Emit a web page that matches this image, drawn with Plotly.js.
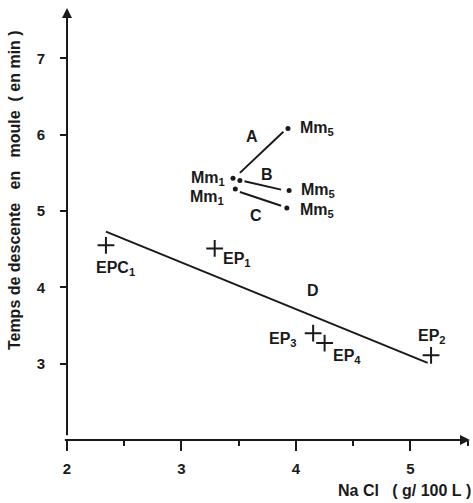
<!DOCTYPE html>
<html>
<head>
<meta charset="utf-8">
<script src="https://cdn.plot.ly/plotly-3.0.1.min.js"></script>
<style>html,body{margin:0;padding:0;background:#fff;}#chart{width:473px;height:503px;}</style>
</head>
<body>
<div id="chart"></div>
<script>
// Points EP (crosses)
const epNames = ['EPC<sub>1</sub>', 'EP<sub>1</sub>', 'EP<sub>3</sub>', 'EP<sub>4</sub>', 'EP<sub>2</sub>'];
const epNaCl = [2.34, 3.29, 4.15, 4.25, 5.18];
const epTime = [4.55, 4.51, 3.40, 3.27, 3.11];

// Regression line D
const dNaCl = [2.34, 5.15];
const dTime = [4.73, 3.01];

// Mm dots: Mm1 (three) and Mm5 (A, B, C)
const mmNames = ['Mm<sub>1</sub>', '', 'Mm<sub>1</sub>', 'Mm<sub>5</sub>', 'Mm<sub>5</sub>', 'Mm<sub>5</sub>'];
const mmNaCl = [3.45, 3.51, 3.47, 3.93, 3.94, 3.92];
const mmTime = [5.43, 5.40, 5.29, 6.08, 5.27, 5.04];

// Segments A, B, C
const aNaCl = [3.51, 3.89], aTime = [5.50, 6.04];
const bNaCl = [3.55, 3.87], bTime = [5.39, 5.28];
const cNaCl = [3.51, 3.87], cTime = [5.25, 5.07];

const xTicks = [2, 3, 4, 5];
const yTicks = [3, 4, 5, 6, 7];

const FONT = 'Liberation Sans, Arial, Helvetica, sans-serif';
const INK = '#1a1a1a';
const NB = '\u00a0';

const lineStyle = {color: INK, width: 2};
const traces = [
  {x: dNaCl, y: dTime, mode: 'lines', line: lineStyle, hoverinfo: 'skip'},
  {x: aNaCl, y: aTime, mode: 'lines', line: lineStyle, hoverinfo: 'skip'},
  {x: bNaCl, y: bTime, mode: 'lines', line: lineStyle, hoverinfo: 'skip'},
  {x: cNaCl, y: cTime, mode: 'lines', line: lineStyle, hoverinfo: 'skip'},
  {x: epNaCl, y: epTime, mode: 'markers',
   marker: {symbol: 'cross-thin-open', size: 12, color: INK, line: {color: INK, width: 2}}},
  {x: mmNaCl, y: mmTime, mode: 'markers',
   marker: {symbol: 'circle', size: 5, color: INK}}
];

const lblFont = {family: FONT, size: 16, color: INK, weight: 'bold'};
function lbl(x, y, text, xanchor, xshift, yshift) {
  return {x: x, y: y, xref: 'x', yref: 'y', text: text, showarrow: false,
          xanchor: xanchor, yanchor: 'middle', xshift: xshift, yshift: yshift, font: lblFont};
}

const annotations = [
  lbl(epNaCl[0], epTime[0], epNames[0], 'center', 10, -23),
  lbl(epNaCl[1], epTime[1], epNames[1], 'left', 6, -11),
  lbl(epNaCl[2], epTime[2], epNames[2], 'right', -14, -6),
  lbl(epNaCl[3], epTime[3], epNames[3], 'left', 6, -13),
  lbl(epNaCl[4], epTime[4], epNames[4], 'center', 1, 19),
  lbl(mmNaCl[0], mmTime[0], mmNames[0], 'right', -6, 0),
  lbl(mmNaCl[2], mmTime[2], mmNames[2], 'right', -9, -9),
  lbl(mmNaCl[3], mmTime[3], mmNames[3], 'left', 10, 0),
  lbl(mmNaCl[4], mmTime[4], mmNames[4], 'left', 10, 0),
  lbl(mmNaCl[5], mmTime[5], mmNames[5], 'left', 11, -3),
  lbl(3.62, 5.97, 'A', 'center', 0, 0),
  lbl(3.75, 5.48, 'B', 'center', 0, 0),
  lbl(3.65, 4.94, 'C', 'center', 0, 0),
  lbl(4.15, 3.96, 'D', 'center', 0, 0),
  // axis arrows
  {x: 5.52, y: 2, ax: 1.955, ay: 2, xref: 'x', yref: 'y', axref: 'x', ayref: 'y',
   showarrow: true, arrowhead: 2, arrowsize: 1, arrowwidth: 2, arrowcolor: INK, text: ' '},
  {x: 2, y: 7.66, ax: 2, ay: 1.93, xref: 'x', yref: 'y', axref: 'x', ayref: 'y',
   showarrow: true, arrowhead: 2, arrowsize: 1, arrowwidth: 2, arrowcolor: INK, text: ' '},
  // axis titles
  {xref: 'paper', yref: 'paper', x: -0.132, y: 0.578, textangle: -90, showarrow: false,
   text: 'Temps' + NB + 'de' + NB + 'descente' + NB + NB + NB + 'en' + NB + NB + NB + 'moule' + NB + NB + '(' + NB + 'en' + NB + 'min' + NB + ')',
   font: {family: FONT, size: 16, color: INK, weight: 'bold'}, xanchor: 'center', yanchor: 'middle'},
  {xref: 'paper', yref: 'paper', x: 1.008, y: -0.116, showarrow: false,
   text: 'Na' + NB + 'Cl' + NB + NB + NB + '(' + NB + 'g/' + NB + '100' + NB + 'L' + NB + ')',
   font: {family: FONT, size: 16, color: INK, weight: 'bold'}, xanchor: 'right', yanchor: 'middle'}
];

const layout = {
  width: 473, height: 503,
  margin: {l: 67, r: 3, t: 8, b: 63},
  paper_bgcolor: '#fff', plot_bgcolor: '#fff',
  showlegend: false,
  xaxis: {range: [2, 5.52], tickvals: xTicks, ticktext: xTicks.map(String),
          ticks: 'outside', ticklen: 10, tickwidth: 2, tickcolor: INK,
          minor: {dtick: 0.5, tick0: 2, ticks: 'outside', ticklen: 5, tickwidth: 2, tickcolor: INK},
          showgrid: false, zeroline: false, showline: false,
          ticklabelstandoff: 5,
          tickfont: {family: FONT, size: 15, color: INK, weight: 'bold'}},
  yaxis: {range: [2, 7.66], tickvals: yTicks, ticktext: yTicks.map(String),
          ticks: 'outside', ticklen: 6, tickwidth: 2, tickcolor: INK,
          showgrid: false, zeroline: false, showline: false,
          ticklabelstandoff: 12,
          tickfont: {family: FONT, size: 15, color: INK, weight: 'bold'}},
  annotations: annotations
};

Plotly.newPlot('chart', traces, layout, {staticPlot: true, displayModeBar: false});
</script>
</body>
</html>
